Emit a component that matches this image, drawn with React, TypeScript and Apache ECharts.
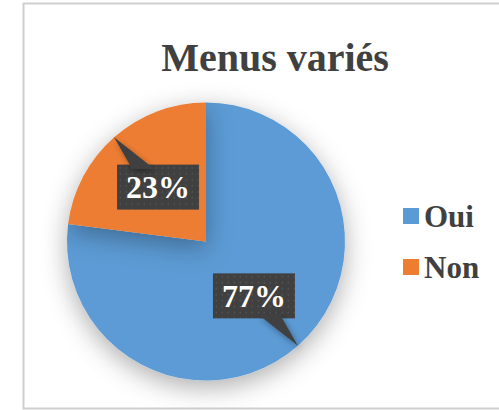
import React, { useEffect, useRef } from "react";
import * as echarts from "echarts";

const titleText = "Menus variés";
const categories = ["Oui", "Non"];
const values = [77, 23];
const colors = ["#5B9BD5", "#ED7D31"];

const serif = "'Liberation Serif', 'Times New Roman', serif";

export default function App() {
  const ref = useRef<HTMLDivElement>(null);
  useEffect(() => {
    const el = ref.current!;
    const chart = echarts.init(el, null, { renderer: "svg" });
    const cx = 206;
    const cy = 241.5;
    const r = 139;
    const total = values.reduce((a, b) => a + b, 0);

    const boxW = 82;
    const boxH = 45;
    const cv = document.createElement("canvas");
    cv.width = boxW * 2;
    cv.height = boxH * 2;
    const ctx = cv.getContext("2d")!;
    ctx.fillStyle = "#404040";
    ctx.fillRect(0, 0, cv.width, cv.height);
    ctx.fillStyle = "#575757";
    for (let y = 5; y < cv.height; y += 12)
      for (let x = 5; x < cv.width; x += 12) ctx.fillRect(x, y, 3, 3);
    const bg = cv.toDataURL();

    let acc = 0;
    const pointers = values.map((v) => {
      const mid = 90 - ((acc + v / 2) / total) * 360;
      acc += v;
      const rad = (mid * Math.PI) / 180;
      const tipX = cx + r * Math.cos(rad);
      const tipY = cy - r * Math.sin(rad);
      const lx = cx + 0.5 * r * Math.cos(rad);
      const ly = cy - 0.5 * r * Math.sin(rad);
      const sx = Math.cos(rad) >= 0 ? 1 : -1;
      const sy = Math.sin(rad) >= 0 ? -1 : 1;
      const by = ly + sy * (boxH / 2 - 2);
      const x1 = lx + sx * 6;
      const x2 = lx + sx * 28;
      return {
        type: "polygon",
        z: 100,
        shape: { points: [[x1, by], [x2, by], [tipX, tipY]] },
        style: {
          fill: "#404040",
          shadowBlur: 6,
          shadowOffsetX: 2,
          shadowOffsetY: 3,
          shadowColor: "rgba(0,0,0,0.35)",
        },
      };
    });

    chart.setOption({
      animation: false,
      backgroundColor: "#ffffff",
      title: {
        text: titleText,
        left: 275,
        top: 37,
        textAlign: "center",
        padding: 0,
        textStyle: {
          fontFamily: serif,
          fontWeight: "bold",
          fontSize: 40,
          color: "#404040",
        },
      },
      legend: {
        orient: "vertical",
        left: 403,
        top: 200,
        padding: 0,
        itemWidth: 16,
        itemHeight: 16,
        itemGap: 19,
        icon: "rect",
        data: categories,
        textStyle: {
          fontFamily: serif,
          fontWeight: "bold",
          fontSize: 31,
          lineHeight: 32,
          color: "#404040",
        },
      },
      graphic: [
        {
          type: "rect",
          z: -10,
          shape: { x: 23.5, y: 3.5, width: 600, height: 405 },
          style: { fill: "none", stroke: "#cfcfcf", lineWidth: 2 },
        },
        ...pointers,
      ],
      series: [
        {
          type: "pie",
          center: [cx, cy],
          radius: r,
          startAngle: 90,
          clockwise: true,
          itemStyle: {
            shadowBlur: 26,
            shadowOffsetY: 7,
            shadowColor: "rgba(0,0,0,0.32)",
          },
          emphasis: { disabled: true },
          label: {
            show: true,
            position: "inside",
            formatter: "{d}%",
            fontFamily: serif,
            fontWeight: "bold",
            fontSize: 32,
            lineHeight: 33,
            color: "#ffffff",
            padding: [6, 9, 6, 9],
            backgroundColor: { image: bg },
            shadowBlur: 6,
            shadowOffsetX: 3,
            shadowOffsetY: 3,
            shadowColor: "rgba(0,0,0,0.4)",
          },
          labelLine: { show: false },
          data: categories.map((c, i) => ({
            name: c,
            value: values[i],
            itemStyle: { color: colors[i] },
          })),
        },
      ],
    });
    return () => chart.dispose();
  }, []);
  return (
    <div
      ref={ref}
      style={{ position: "fixed", left: 0, top: 0, width: 499, height: 410 }}
    />
  );
}
